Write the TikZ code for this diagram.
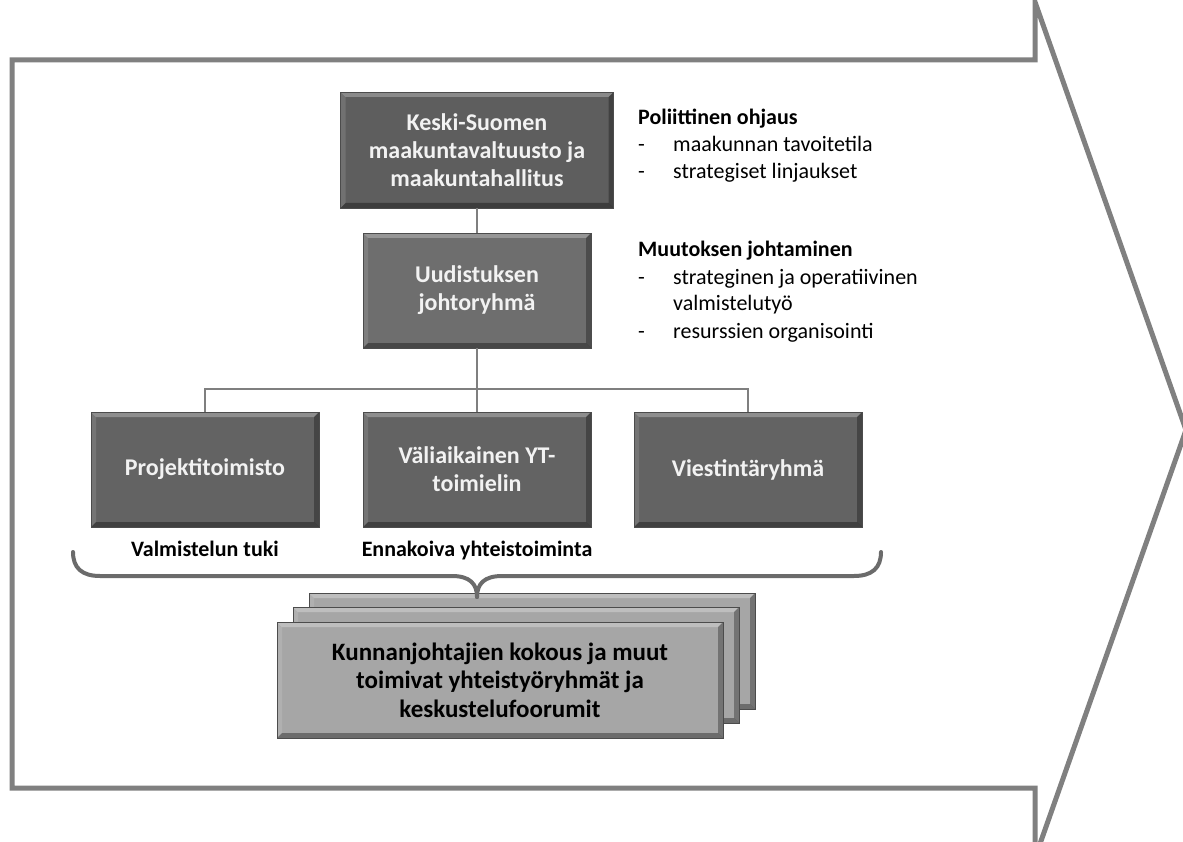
\documentclass[tikz,border=0pt]{standalone}
\usepackage{fontspec}
\setmainfont{Carlito}
\definecolor{arrowgray}{HTML}{808080}
\definecolor{conngray}{HTML}{7F7F7F}
\definecolor{bracegray}{HTML}{6B6B6B}
\definecolor{topfill}{HTML}{5E5E5E}
\definecolor{midfill}{HTML}{6E6E6E}
\definecolor{lowfill}{HTML}{636363}
\definecolor{stackfill}{HTML}{A6A6A6}
\definecolor{boxtext}{HTML}{F2F2F2}
\begin{document}
\begin{tikzpicture}[x=1pt,y=-1pt,
  arrowline/.style={draw=arrowgray, line width=5pt, line join=miter},
  conn/.style={draw=conngray, line width=2.5pt},
  bracestyle/.style={draw=bracegray, line width=4pt, line cap=round},
  bevelbox/.style={inner sep=0pt, draw=black!70, line width=0.8pt, align=center,
    path picture={
      \fill[white,opacity=0.28] (path picture bounding box.north west) -- (path picture bounding box.north east)
        -- ([xshift=-5pt,yshift=-5pt]path picture bounding box.north east) -- ([xshift=5pt,yshift=-5pt]path picture bounding box.north west) -- cycle;
      \fill[white,opacity=0.12] (path picture bounding box.north west) -- ([xshift=5pt,yshift=-5pt]path picture bounding box.north west)
        -- ([xshift=5pt,yshift=5pt]path picture bounding box.south west) -- (path picture bounding box.south west) -- cycle;
      \fill[black,opacity=0.3] (path picture bounding box.north east) -- ([xshift=-5pt,yshift=-5pt]path picture bounding box.north east)
        -- ([xshift=-5pt,yshift=5pt]path picture bounding box.south east) -- (path picture bounding box.south east) -- cycle;
      \fill[black,opacity=0.35] (path picture bounding box.south west) -- ([xshift=5pt,yshift=5pt]path picture bounding box.south west)
        -- ([xshift=-5pt,yshift=5pt]path picture bounding box.south east) -- (path picture bounding box.south east) -- cycle;
    }},
  darkbox/.style={bevelbox, text=boxtext, font=\fontsize{24}{28}\selectfont\bfseries,
    minimum width=228pt, minimum height=115pt},
  stackbox/.style={bevelbox, fill=stackfill, text=black, font=\fontsize{25}{28.5}\selectfont\bfseries,
    minimum width=446pt, minimum height=116pt},
  sidehead/.style={anchor=base west, inner sep=0pt, font=\fontsize{22}{27}\selectfont\bfseries},
  sideitem/.style={anchor=base west, inner sep=0pt, font=\fontsize{22}{27}\selectfont},
  grouplabel/.style={anchor=base, inner sep=0pt, font=\fontsize{22}{27}\selectfont\bfseries}
]
\useasboundingbox (0,0) rectangle (1183,842);
\fill[white] (0,0) rectangle (1183,842);
\begin{scope}
  \clip (0,0) rectangle (1183,842);
  \draw[arrowline] (12,60) -- (1035,60) -- (1035,2) -- (1186,430) -- (1035,858) -- (1035,788) -- (12,788) -- cycle;
\end{scope}

% boxes
\node[darkbox, fill=topfill, minimum width=273pt, minimum height=116pt] (keski) at (477,150) {Keski-Suomen\\maakuntavaltuusto ja\\maakuntahallitus};
\node[darkbox, fill=midfill] (uud) at (477,290.5) {Uudistuksen\\johtoryhmä};
\node[darkbox, fill=lowfill] (proj) at (205,469.5) {Projektitoimisto};
\node[darkbox, fill=lowfill] (vali) at (477,469.5) {Väliaikainen YT-\\toimielin};
\node[darkbox, fill=lowfill] (viest) at (748,469.5) {Viestintäryhmä};

% connectors
\coordinate (hub) at (477,389);
\draw[conn] (keski.south) -- (uud.north);
\draw[conn] (uud.south) -- (vali.north);
\draw[conn] (proj.north) |- (hub) -| (viest.north);

% side texts
\node[sidehead] (pol) at (638,125) {Poliittinen ohjaus};
\node[sideitem] (pold1) at (638,152) {-};
\node[sideitem] (pol1) at (673,152) {maakunnan tavoitetila};
\node[sideitem] (pold2) at (638,179) {-};
\node[sideitem] (pol2) at (673,179) {strategiset linjaukset};
\node[sidehead] (muu) at (638,257) {Muutoksen johtaminen};
\node[sideitem] (muud1) at (638,284) {-};
\node[sideitem] (muu1) at (673,284) {strateginen ja operatiivinen};
\node[sideitem] (muu1b) at (673,311) {valmistelutyö};
\node[sideitem] (muud2) at (638,338) {-};
\node[sideitem] (muu2) at (673,338) {resurssien organisointi};

% group labels
\node[grouplabel] (valm) at (205,556) {Valmistelun tuki};
\node[grouplabel] (enna) at (477,556) {Ennakoiva yhteistoiminta};

% stacked boxes
\node[stackbox] (stack3) at (532,651) {};
\node[stackbox] (stack2) at (516,665) {};
\node[stackbox] (stack1) at (500,680) {Kunnanjohtajien kokous ja muut\\toimivat yhteistyöryhmät ja\\keskustelufoorumit};

% brace
\coordinate (bl) at (73,552);
\coordinate (br) at (881,552);
\coordinate (btip) at (477,597);
\draw[bracestyle] (bl) .. controls (73,568) and (82,576) .. (100,576) -- (452,576) .. controls (470,576) and (477,584) .. (btip);
\draw[bracestyle] (br) .. controls (881,568) and (872,576) .. (854,576) -- (502,576) .. controls (484,576) and (477,584) .. (btip);
\end{tikzpicture}
\end{document}
